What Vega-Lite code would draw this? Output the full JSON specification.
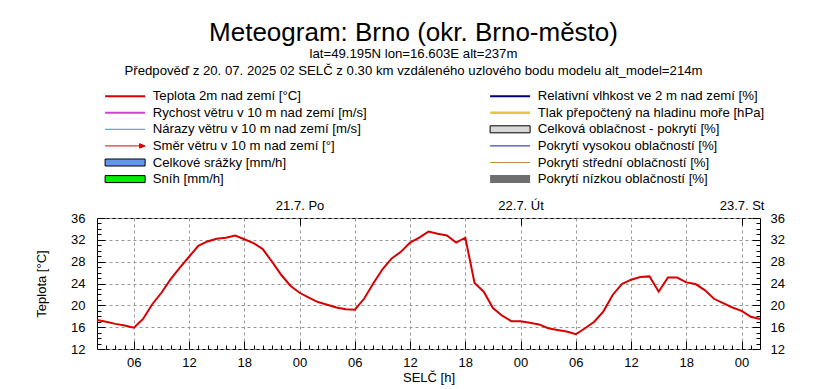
{
  "$schema": "https://vega.github.io/schema/vega-lite/v6.json",
  "width": 663,
  "height": 131,
  "autosize": {"type": "none"},
  "padding": {"left": 97, "top": 218, "right": 55, "bottom": 40},
  "background": "white",
  "title": {
    "text": "Meteogram: Brno (okr. Brno-město)",
    "subtitle": ["lat=49.195N lon=16.603E alt=237m", "Předpověď z 20. 07. 2025 02 SELČ z 0.30 km vzdáleného uzlového bodu modelu alt_model=214m"],
    "anchor": "middle",
    "frame": "group",
    "dx": -15,
    "offset": 12,
    "font": "Liberation Sans",
    "fontSize": 26,
    "fontWeight": "normal",
    "color": "black",
    "subtitleFont": "Liberation Sans",
    "subtitleFontSize": 13.2,
    "subtitleColor": "black",
    "subtitlePadding": 2,
    "subtitleLineHeight": 17
  },
  "datasets": {
    "legend": [
      {"series": "Teplota 2m nad zemí [°C]"},
      {"series": "Rychost větru v 10 m nad zemí [m/s]"},
      {"series": "Nárazy větru v 10 m nad zemí [m/s]"},
      {"series": "Směr větru v 10 m nad zemí [°]"},
      {"series": "Celkové srážky [mm/h]"},
      {"series": "Sníh [mm/h]"},
      {"series": "Relativní vlhkost ve 2 m nad zemí [%]"},
      {"series": "Tlak přepočtený na hladinu moře [hPa]"},
      {"series": "Celková oblačnost - pokrytí [%]"},
      {"series": "Pokrytí vysokou oblačností [%]"},
      {"series": "Pokrytí střední oblačností [%]"},
      {"series": "Pokrytí nízkou oblačností [%]"}
    ],
    "temperature": [
      {"hour": 2, "temp": 17.3}, {"hour": 3, "temp": 17.0}, {"hour": 4, "temp": 16.6}, {"hour": 5, "temp": 16.3},
      {"hour": 6, "temp": 15.9}, {"hour": 7, "temp": 17.5}, {"hour": 8, "temp": 20.2}, {"hour": 9, "temp": 22.3},
      {"hour": 10, "temp": 24.8}, {"hour": 11, "temp": 26.9}, {"hour": 12, "temp": 28.9}, {"hour": 13, "temp": 30.9},
      {"hour": 14, "temp": 31.7}, {"hour": 15, "temp": 32.2}, {"hour": 16, "temp": 32.4}, {"hour": 17, "temp": 32.8},
      {"hour": 18, "temp": 32.1}, {"hour": 19, "temp": 31.4}, {"hour": 20, "temp": 30.3}, {"hour": 21, "temp": 28.0},
      {"hour": 22, "temp": 25.6}, {"hour": 23, "temp": 23.6}, {"hour": 24, "temp": 22.3}, {"hour": 25, "temp": 21.4},
      {"hour": 26, "temp": 20.6}, {"hour": 27, "temp": 20.1}, {"hour": 28, "temp": 19.6}, {"hour": 29, "temp": 19.3},
      {"hour": 30, "temp": 19.2}, {"hour": 31, "temp": 21.2}, {"hour": 32, "temp": 24.0}, {"hour": 33, "temp": 26.6},
      {"hour": 34, "temp": 28.6}, {"hour": 35, "temp": 29.8}, {"hour": 36, "temp": 31.5}, {"hour": 37, "temp": 32.4},
      {"hour": 38, "temp": 33.5}, {"hour": 39, "temp": 33.1}, {"hour": 40, "temp": 32.8}, {"hour": 41, "temp": 31.5},
      {"hour": 42, "temp": 32.4}, {"hour": 43, "temp": 24.1}, {"hour": 44, "temp": 22.5}, {"hour": 45, "temp": 19.5},
      {"hour": 46, "temp": 18.1}, {"hour": 47, "temp": 17.1}, {"hour": 48, "temp": 17.1}, {"hour": 49, "temp": 16.8},
      {"hour": 50, "temp": 16.5}, {"hour": 51, "temp": 15.8}, {"hour": 52, "temp": 15.5}, {"hour": 53, "temp": 15.2},
      {"hour": 54, "temp": 14.7}, {"hour": 55, "temp": 15.8}, {"hour": 56, "temp": 17.0}, {"hour": 57, "temp": 18.9},
      {"hour": 58, "temp": 21.9}, {"hour": 59, "temp": 23.9}, {"hour": 60, "temp": 24.7}, {"hour": 61, "temp": 25.2},
      {"hour": 62, "temp": 25.3}, {"hour": 63, "temp": 22.5}, {"hour": 64, "temp": 25.1}, {"hour": 65, "temp": 25.1},
      {"hour": 66, "temp": 24.2}, {"hour": 67, "temp": 23.9}, {"hour": 68, "temp": 22.8}, {"hour": 69, "temp": 21.2},
      {"hour": 70, "temp": 20.4}, {"hour": 71, "temp": 19.6}, {"hour": 72, "temp": 19.0}, {"hour": 73, "temp": 17.9},
      {"hour": 74, "temp": 17.5}
    ]
  },
  "data": {"name": "temperature"},
  "resolve": {"axis": {"x": "independent", "y": "independent"}},
  "layer": [
    {
      "mark": {"type": "line", "strokeWidth": 2, "color": "#d80000"},
      "encoding": {
        "x": {
          "field": "hour", "type": "quantitative",
          "scale": {"domain": [2, 74], "nice": false, "zero": false},
          "axis": {"orient": "bottom", "values": [6, 12, 18, 24, 30, 36, 42, 48, 54, 60, 66, 72], "labelExpr": "(datum.value % 24 < 10 ? '0' : '') + (datum.value % 24)", "tickSize": -8, "labelPadding": 15, "grid": true, "title": "SELČ [h]", "titlePadding": 2, "labelFlush": false, "labelOverlap": false}
        },
        "y": {
          "field": "temp", "type": "quantitative",
          "scale": {"domain": [12, 36], "nice": false, "zero": false},
          "axis": {"orient": "left", "values": [12, 16, 20, 24, 28, 32, 36], "tickSize": -8, "labelPadding": 20, "grid": true, "title": "Teplota [°C]", "titlePadding": 22, "labelFlush": false}
        }
      }
    },
    {
      "mark": {"type": "line", "opacity": 0},
      "encoding": {
        "x": {"field": "hour", "type": "quantitative", "axis": {"orient": "bottom", "values": [3,4,5,6,7,8,9,10,11,12,13,14,15,16,17,18,19,20,21,22,23,24,25,26,27,28,29,30,31,32,33,34,35,36,37,38,39,40,41,42,43,44,45,46,47,48,49,50,51,52,53,54,55,56,57,58,59,60,61,62,63,64,65,66,67,68,69,70,71,72,73], "tickSize": -4, "labels": false, "grid": false, "title": null}},
        "y": {"field": "temp", "type": "quantitative", "axis": {"orient": "left", "values": [13,14,15,16,17,18,19,20,21,22,23,24,25,26,27,28,29,30,31,32,33,34,35], "tickSize": -4, "labels": false, "grid": false, "title": null}}
      }
    },
    {
      "mark": {"type": "line", "opacity": 0},
      "encoding": {
        "x": {"field": "hour", "type": "quantitative", "axis": {"orient": "top", "values": [24, 48, 72], "tickSize": -7, "labelPadding": 13, "labelExpr": "datum.value == 24 ? '21.7. Po' : (datum.value == 48 ? '22.7. Út' : '23.7. St')", "grid": false, "title": null, "labelFlush": false, "labelOverlap": false}},
        "y": {"field": "temp", "type": "quantitative", "axis": {"orient": "right", "values": [12, 16, 20, 24, 28, 32, 36], "tickSize": -8, "labelPadding": 18, "grid": false, "title": null, "labelFlush": false}}
      }
    },
    {
      "mark": {"type": "line", "opacity": 0},
      "encoding": {
        "x": {"field": "hour", "type": "quantitative", "axis": null},
        "y": {"field": "temp", "type": "quantitative", "axis": {"orient": "right", "values": [13,14,15,16,17,18,19,20,21,22,23,24,25,26,27,28,29,30,31,32,33,34,35], "tickSize": -4, "labels": false, "grid": false, "title": null}}
      }
    },
    {
      "data": {"name": "legend"},
      "mark": {"type": "point", "opacity": 0},
      "encoding": {
        "shape": {
          "field": "series", "type": "nominal",
          "scale": {
            "domain": ["Teplota 2m nad zemí [°C]", "Rychost větru v 10 m nad zemí [m/s]", "Nárazy větru v 10 m nad zemí [m/s]", "Směr větru v 10 m nad zemí [°]", "Celkové srážky [mm/h]", "Sníh [mm/h]", "Relativní vlhkost ve 2 m nad zemí [%]", "Tlak přepočtený na hladinu moře [hPa]", "Celková oblačnost - pokrytí [%]", "Pokrytí vysokou oblačností [%]", "Pokrytí střední oblačností [%]", "Pokrytí nízkou oblačností [%]"],
            "range": ["M-4,-0.2H4V0.2H-4Z", "M-4,-0.2H4V0.2H-4Z", "M-4,0H4", "M-4,0H3M2.9,-0.45L4,0L2.9,0.45Z", "M-4,-0.7H4V0.7H-4Z", "M-4,-0.7H4V0.7H-4Z", "M-4,-0.2H4V0.2H-4Z", "M-4,-0.25H4V0.25H-4Z", "M-4,-0.7H4V0.7H-4Z", "M-4,0H4", "M-4,0H4", "M-4,-0.8H4V0.8H-4Z"]
          },
          "legend": {"orient": "none", "legendX": 21.5, "legendY": -128.5, "columns": 2, "title": null, "symbolSize": 100, "symbolStrokeWidth": 1, "symbolOpacity": 1, "symbolFillColor": "transparent", "symbolStrokeColor": "transparent", "labelOffset": 21, "columnPadding": 120, "rowPadding": 2.6, "padding": 0, "labelFont": "Liberation Sans", "labelFontSize": 13.2, "labelColor": "black", "labelLimit": 500}
        },
        "fill": {
          "field": "series", "type": "nominal",
          "scale": {
            "domain": ["Teplota 2m nad zemí [°C]", "Rychost větru v 10 m nad zemí [m/s]", "Nárazy větru v 10 m nad zemí [m/s]", "Směr větru v 10 m nad zemí [°]", "Celkové srážky [mm/h]", "Sníh [mm/h]", "Relativní vlhkost ve 2 m nad zemí [%]", "Tlak přepočtený na hladinu moře [hPa]", "Celková oblačnost - pokrytí [%]", "Pokrytí vysokou oblačností [%]", "Pokrytí střední oblačností [%]", "Pokrytí nízkou oblačností [%]"],
            "range": ["#dd0000", "#cc44cc", "transparent", "#dd0000", "#6495ed", "#00ee00", "#000080", "#e8c444", "#d8d8d8", "transparent", "transparent", "#6e6e6e"]
          },
          "legend": {"orient": "none", "legendX": 21.5, "legendY": -128.5, "columns": 2, "title": null, "symbolSize": 100, "symbolStrokeWidth": 1, "symbolOpacity": 1, "symbolFillColor": "transparent", "symbolStrokeColor": "transparent", "labelOffset": 21, "columnPadding": 120, "rowPadding": 2.6, "padding": 0, "labelFont": "Liberation Sans", "labelFontSize": 13.2, "labelColor": "black", "labelLimit": 500}
        },
        "stroke": {
          "field": "series", "type": "nominal",
          "scale": {
            "domain": ["Teplota 2m nad zemí [°C]", "Rychost větru v 10 m nad zemí [m/s]", "Nárazy větru v 10 m nad zemí [m/s]", "Směr větru v 10 m nad zemí [°]", "Celkové srážky [mm/h]", "Sníh [mm/h]", "Relativní vlhkost ve 2 m nad zemí [%]", "Tlak přepočtený na hladinu moře [hPa]", "Celková oblačnost - pokrytí [%]", "Pokrytí vysokou oblačností [%]", "Pokrytí střední oblačností [%]", "Pokrytí nízkou oblačností [%]"],
            "range": ["transparent", "transparent", "#3d8fd6", "#dd0000", "#000000", "#000000", "transparent", "transparent", "#000000", "#1a1aa0", "#d08a40", "transparent"]
          },
          "legend": {"orient": "none", "legendX": 21.5, "legendY": -128.5, "columns": 2, "title": null, "symbolSize": 100, "symbolStrokeWidth": 1, "symbolOpacity": 1, "symbolFillColor": "transparent", "symbolStrokeColor": "transparent", "labelOffset": 21, "columnPadding": 120, "rowPadding": 2.6, "padding": 0, "labelFont": "Liberation Sans", "labelFontSize": 13.2, "labelColor": "black", "labelLimit": 500}
        }
      }
    }
  ],
  "config": {
    "font": "Liberation Sans",
    "view": {"stroke": "black", "strokeWidth": 1},
    "axis": {
      "domain": false,
      "tickColor": "black",
      "tickWidth": 1,
      "labelFont": "Liberation Sans",
      "labelFontSize": 13,
      "labelColor": "black",
      "titleFont": "Liberation Sans",
      "titleFontSize": 13,
      "titleFontWeight": "normal",
      "titleColor": "black",
      "gridColor": "#999999",
      "gridDash": [3, 3],
      "gridWidth": 1,
      "gridOpacity": 1
    }
  }
}
